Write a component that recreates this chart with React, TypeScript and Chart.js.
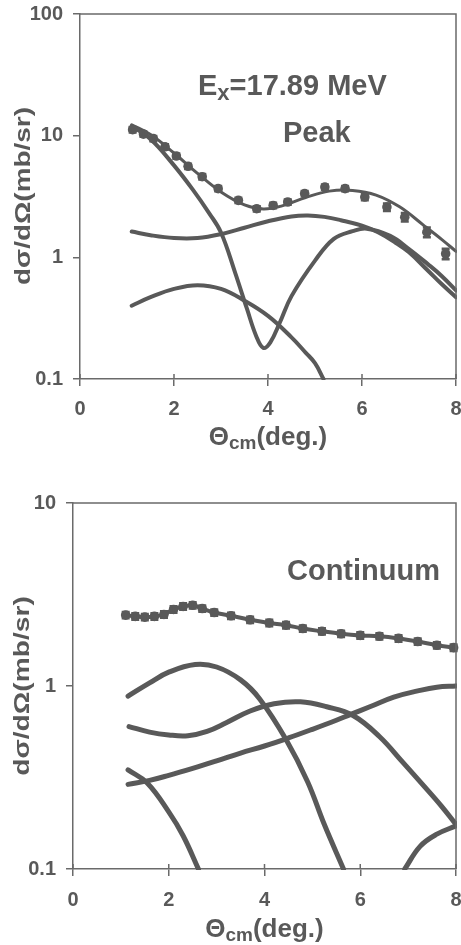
import { useEffect, useRef } from 'react';
import { Chart, registerables } from 'chart.js';
Chart.register(...registerables);

const INK = '#595959';
const AXIS = '#6a6a6a';
const FONT = '"Liberation Sans", Arial, Helvetica, sans-serif';

// ---------- Top panel: Ex = 17.89 MeV, Peak ----------
const xTicks = [0, 2, 4, 6, 8];
const peakYTicks = [0.1, 1, 10, 100];

const peakDataX = [1.12, 1.35, 1.56, 1.81, 2.05, 2.3, 2.6, 2.94, 3.37, 3.76, 4.11, 4.42, 4.78, 5.21, 5.64, 6.06, 6.53, 6.91, 7.38, 7.78];
const peakDataY = [11.2, 10.3, 9.45, 8.1, 6.8, 5.6, 4.6, 3.67, 2.94, 2.51, 2.67, 2.85, 3.34, 3.78, 3.67, 3.13, 2.59, 2.14, 1.61, 1.07];
const peakDataErr = [0.05, 0.05, 0.05, 0.05, 0.05, 0.05, 0.05, 0.05, 0.05, 0.05, 0.05, 0.05, 0.05, 0.05, 0.05, 0.06, 0.07, 0.08, 0.09, 0.1];

const peakTotalX = [1.1, 1.5, 2, 2.5, 3, 3.5, 3.9, 4.3, 4.8, 5.3, 5.8, 6.3, 6.8, 7.3, 7.7, 8.0];
const peakTotalY = [12.3, 10.2, 7.2, 4.9, 3.45, 2.7, 2.5, 2.65, 3.1, 3.5, 3.55, 3.25, 2.6, 1.85, 1.4, 1.12];

const peakL1X = [1.1, 1.5, 2.0, 2.4, 2.75, 3.0, 3.3, 3.55, 3.75, 3.9, 4.05, 4.25, 4.5, 5.0, 5.4, 5.8, 6.1, 6.6, 7.0, 7.4, 7.7, 8.0];
const peakL1Y = [12.0, 9.4, 5.7, 3.6, 2.3, 1.6, 0.75, 0.38, 0.225, 0.18, 0.2, 0.29, 0.48, 0.94, 1.42, 1.64, 1.72, 1.5, 1.17, 0.88, 0.7, 0.535];

const peakL2X = [1.1, 1.5, 2.0, 2.5, 3.0, 3.5, 4.0, 4.5, 4.85, 5.2, 5.55, 6.0, 6.35, 6.7, 7.0, 7.4, 7.7, 8.0];
const peakL2Y = [1.63, 1.52, 1.44, 1.44, 1.55, 1.75, 1.98, 2.17, 2.21, 2.15, 2.02, 1.82, 1.6, 1.33, 1.1, 0.78, 0.6, 0.47];

const peakL3X = [1.1, 1.5, 2.0, 2.5, 3.0, 3.5, 4.0, 4.5, 4.8, 5.0, 5.18];
const peakL3Y = [0.40, 0.47, 0.55, 0.59, 0.55, 0.44, 0.33, 0.22, 0.165, 0.135, 0.1];

// ---------- Bottom panel: Continuum ----------
const contYTicks = [0.1, 1, 10];

const contDataX = [1.1, 1.3, 1.5, 1.7, 1.9, 2.1, 2.3, 2.5, 2.7, 2.95, 3.3, 3.7, 4.1, 4.45, 4.8, 5.2, 5.6, 6.0, 6.4, 6.8, 7.2, 7.6, 7.95];
const contDataY = [2.44, 2.40, 2.38, 2.40, 2.46, 2.62, 2.72, 2.76, 2.65, 2.52, 2.42, 2.30, 2.21, 2.15, 2.06, 1.99, 1.93, 1.89, 1.87, 1.82, 1.75, 1.67, 1.62];
const contDataErr = [0.04, 0.04, 0.04, 0.04, 0.04, 0.04, 0.04, 0.04, 0.04, 0.04, 0.04, 0.04, 0.04, 0.04, 0.04, 0.04, 0.04, 0.04, 0.04, 0.04, 0.04, 0.04, 0.04];

const contL1X = [1.15, 1.6, 2.0, 2.55, 3.0, 3.5, 3.9, 4.45, 4.9, 5.25, 5.65];
const contL1Y = [0.88, 1.04, 1.19, 1.31, 1.27, 1.08, 0.85, 0.51, 0.3, 0.175, 0.1];

const contL2X = [1.17, 1.6, 2.0, 2.4, 2.8, 3.2, 3.7, 4.2, 4.75, 5.3, 5.85, 6.4, 6.9, 7.3, 7.7, 8.0];
const contL2Y = [0.60, 0.56, 0.54, 0.535, 0.565, 0.63, 0.73, 0.80, 0.82, 0.77, 0.69, 0.53, 0.38, 0.29, 0.22, 0.175];

const contL3X = [1.15, 1.6, 2.0, 2.5, 3.0, 3.5, 4.0, 4.5, 5.0, 5.5, 5.8, 6.2, 6.7, 7.2, 7.6, 8.0];
const contL3Y = [0.29, 0.305, 0.325, 0.355, 0.39, 0.43, 0.47, 0.52, 0.58, 0.65, 0.70, 0.77, 0.87, 0.94, 0.985, 1.0];

const contL4X = [1.15, 1.55, 2.0, 2.3, 2.62];
const contL4Y = [0.348, 0.295, 0.205, 0.152, 0.1];

const contL5X = [6.93, 7.25, 7.6, 8.0];
const contL5Y = [0.1, 0.133, 0.155, 0.172];

const pts = (xs: number[], ys: number[]) => xs.map((x, i) => ({ x, y: ys[i] }));

type Panel = {
  width: number;
  height: number;
  left: number;
  right: number;
  top: number;
  bottom: number;
  yMax: number;
  yTicks: number[];
  tickPadX: number;
  yTitle: { cx: number; cy: number; stretch: number };
  xTitleBaseline: number;
  texts: (ctx: CanvasRenderingContext2D) => void;
  datasets: any[];
};

function curve(xs: number[], ys: number[], width = 4) {
  return {
    type: 'line',
    data: pts(xs, ys),
    borderColor: INK,
    borderWidth: width,
    borderCapStyle: 'round',
    borderJoinStyle: 'round',
    pointRadius: 0,
    fill: false,
    tension: 0.4,
    clip: 1,
  };
}

function dataSeries(xs: number[], ys: number[], errs: number[], line: boolean) {
  return {
    type: 'line',
    data: pts(xs, ys),
    errors: errs,
    showLine: line,
    borderColor: INK,
    borderWidth: 4,
    tension: 0.4,
    pointRadius: 4.8,
    pointStyle: 'circle',
    pointBackgroundColor: INK,
    pointBorderWidth: 0,
    fill: false,
    clip: 3,
  };
}

const decorPlugin = (p: Panel) => ({
  id: 'decor',
  afterDatasetsDraw(chart: any) {
    const { ctx, scales } = chart;
    ctx.save();
    ctx.strokeStyle = INK;
    ctx.lineWidth = 2.5;
    chart.data.datasets.forEach((ds: any) => {
      if (!ds.errors) return;
      ds.data.forEach((pt: any, i: number) => {
        const e = ds.errors[i];
        const px = scales.x.getPixelForValue(pt.x);
        const y1 = scales.y.getPixelForValue(pt.y * (1 + e));
        const y2 = scales.y.getPixelForValue(pt.y * (1 - e));
        ctx.beginPath();
        ctx.moveTo(px, y1);
        ctx.lineTo(px, y2);
        ctx.moveTo(px - 4, y1);
        ctx.lineTo(px + 4, y1);
        ctx.moveTo(px - 4, y2);
        ctx.lineTo(px + 4, y2);
        ctx.stroke();
      });
    });
    ctx.restore();
  },
  afterDraw(chart: any) {
    const { ctx, chartArea: a, scales } = chart;
    ctx.save();
    ctx.strokeStyle = AXIS;
    ctx.lineWidth = 1.5;
    ctx.beginPath();
    ctx.moveTo(a.left, a.top);
    ctx.lineTo(a.right, a.top);
    ctx.lineTo(a.right, a.bottom);
    ctx.stroke();
    ctx.beginPath();
    xTicks.forEach((v) => {
      const px = scales.x.getPixelForValue(v);
      ctx.moveTo(px, a.bottom);
      ctx.lineTo(px, a.bottom - 5);
    });
    ctx.stroke();

    ctx.fillStyle = INK;
    ctx.save();
    ctx.translate(p.yTitle.cx, p.yTitle.cy);
    ctx.rotate(-Math.PI / 2);
    ctx.scale(p.yTitle.stretch, 1);
    ctx.font = `bold 22px ${FONT}`;
    ctx.textAlign = 'center';
    ctx.textBaseline = 'middle';
    ctx.fillText('dσ/dΩ(mb/sr)', 0, 0);
    ctx.restore();

    const main = `bold 26px ${FONT}`;
    const sub = `bold 19px ${FONT}`;
    ctx.textAlign = 'left';
    ctx.textBaseline = 'alphabetic';
    ctx.font = main;
    const w1 = ctx.measureText('Θ').width;
    const w3 = ctx.measureText('(deg.)').width;
    ctx.font = sub;
    const w2 = ctx.measureText('cm').width;
    let x0 = (a.left + a.right) / 2 - (w1 + w2 + w3) / 2;
    const b = p.xTitleBaseline;
    ctx.font = main;
    ctx.fillText('Θ', x0, b);
    x0 += w1;
    ctx.font = sub;
    ctx.fillText('cm', x0, b + 4);
    x0 += w2;
    ctx.font = main;
    ctx.fillText('(deg.)', x0, b);

    p.texts(ctx);
    ctx.restore();
  },
});

function buildConfig(p: Panel): any {
  return {
    data: { datasets: p.datasets },
    options: {
      responsive: false,
      animation: false,
      devicePixelRatio: 1,
      layout: { padding: { top: p.top, right: p.width - p.right, left: 0, bottom: 0 } },
      plugins: { legend: { display: false }, tooltip: { enabled: false }, title: { display: false } },
      scales: {
        x: {
          type: 'linear',
          min: 0,
          max: 8,
          afterBuildTicks: (s: any) => {
            s.ticks = xTicks.map((v) => ({ value: v }));
          },
          afterFit: (s: any) => {
            s.height = p.height - p.bottom;
            s.paddingLeft = 0;
            s.paddingRight = 0;
          },
          ticks: {
            font: { family: FONT, size: 20, weight: 'bold' },
            color: INK,
            padding: p.tickPadX,
            maxRotation: 0,
            autoSkip: false,
          },
          grid: { drawOnChartArea: false, tickLength: 7, color: AXIS, lineWidth: 1.5 },
          border: { color: AXIS, width: 1.5 },
        },
        y: {
          type: 'logarithmic',
          min: 0.1,
          max: p.yMax,
          afterBuildTicks: (s: any) => {
            s.ticks = p.yTicks.map((v) => ({ value: v }));
          },
          afterFit: (s: any) => {
            s.width = p.left;
            s.paddingTop = 0;
            s.paddingBottom = 0;
          },
          ticks: {
            callback: (v: any) => String(v),
            font: { family: FONT, size: 20, weight: 'bold' },
            color: INK,
            padding: 10,
            autoSkip: false,
          },
          grid: { drawOnChartArea: false, tickLength: 7, color: AXIS, lineWidth: 1.5 },
          border: { color: AXIS, width: 1.5 },
        },
      },
    },
    plugins: [decorPlugin(p)],
  };
}

const topPanel: Panel = {
  width: 461,
  height: 470,
  left: 80,
  right: 456,
  top: 14,
  bottom: 379,
  yMax: 100,
  yTicks: peakYTicks,
  tickPadX: 11,
  yTitle: { cx: 24, cy: 196, stretch: 1.27 },
  xTitleBaseline: 445,
  texts: (ctx) => {
    ctx.textAlign = 'left';
    ctx.textBaseline = 'alphabetic';
    ctx.font = `bold 29px ${FONT}`;
    let x = 198;
    ctx.fillText('E', x, 95);
    x += ctx.measureText('E').width;
    ctx.font = `bold 22px ${FONT}`;
    ctx.fillText('x', x, 100);
    x += ctx.measureText('x').width;
    ctx.font = `bold 29px ${FONT}`;
    ctx.fillText('=17.89 MeV', x, 95);
    ctx.fillText('Peak', 283, 142);
  },
  datasets: [
    curve(peakL1X, peakL1Y),
    curve(peakL2X, peakL2Y),
    curve(peakL3X, peakL3Y),
    dataSeries(peakDataX, peakDataY, peakDataErr, false),
    curve(peakTotalX, peakTotalY, 3),
  ],
};

const bottomPanel: Panel = {
  width: 461,
  height: 475,
  left: 73,
  right: 456,
  top: 33,
  bottom: 399,
  yMax: 10,
  yTicks: contYTicks,
  tickPadX: 12,
  yTitle: { cx: 23, cy: 216, stretch: 1.28 },
  xTitleBaseline: 467,
  texts: (ctx) => {
    ctx.textAlign = 'left';
    ctx.textBaseline = 'alphabetic';
    ctx.font = `bold 29px ${FONT}`;
    ctx.fillText('Continuum', 287, 110);
  },
  datasets: [
    curve(contL1X, contL1Y, 5),
    curve(contL2X, contL2Y, 5),
    curve(contL3X, contL3Y, 5),
    curve(contL4X, contL4Y, 5),
    curve(contL5X, contL5Y, 5),
    dataSeries(contDataX, contDataY, contDataErr, true),
  ],
};

function PanelChart({ panel }: { panel: Panel }) {
  const ref = useRef<HTMLCanvasElement | null>(null);
  useEffect(() => {
    if (!ref.current) return;
    const chart = new Chart(ref.current, buildConfig(panel));
    return () => chart.destroy();
  }, [panel]);
  return <canvas ref={ref} width={panel.width} height={panel.height} style={{ display: 'block', width: panel.width, height: panel.height }} />;
}

export default function App() {
  return (
    <div style={{ position: 'absolute', left: 0, top: 0, width: 461, height: 945, background: '#fff', overflow: 'hidden' }}>
      <PanelChart panel={topPanel} />
      <PanelChart panel={bottomPanel} />
    </div>
  );
}
